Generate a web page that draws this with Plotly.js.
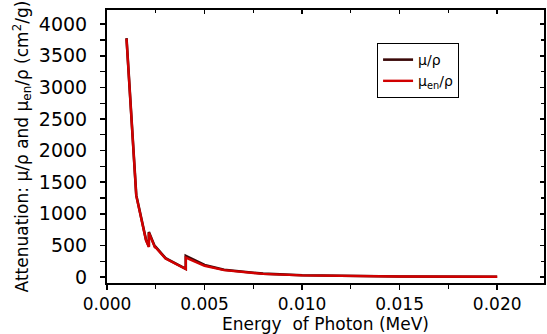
<!DOCTYPE html>
<html>
<head>
<meta charset="utf-8">
<script src="https://cdn.plot.ly/plotly-3.0.1.min.js"></script>
<style>html,body{margin:0;padding:0;background:#fff;}#chart{width:547px;height:334px;}</style>
</head>
<body>
<div id="chart"></div>
<script>
// Photon energy (MeV)
var energy = [0.001, 0.0015, 0.002, 0.0021455, 0.0021455, 0.002472, 0.002472, 0.003, 0.004, 0.0040381, 0.0040381, 0.005, 0.006, 0.008, 0.010, 0.015, 0.020];
// Mass attenuation coefficient mu/rho (cm^2/g)
var muRho = [3781, 1295, 587, 482, 712, 465, 485, 298, 133, 130, 334, 191, 115, 53, 28.5, 9.0, 4.0];
// Mass energy-absorption coefficient mu_en/rho (cm^2/g)
var muEnRho = [3772, 1287, 580, 476, 700, 457, 476, 291, 128, 125, 308, 178, 108, 49, 25.5, 7.5, 3.0];
var xTicks = [0.000, 0.005, 0.010, 0.015, 0.020];
var xTickText = ["0.000", "0.005", "0.010", "0.015", "0.020"];
var yTicks = [0, 500, 1000, 1500, 2000, 2500, 3000, 3500, 4000];

var font = "'DejaVu Sans', sans-serif";
var traces = [
  {x: energy, y: muRho, type: "scatter", mode: "lines", name: "\u03bc/\u03c1",
   line: {color: "#3a0808", width: 2.6}},
  {x: energy, y: muEnRho, type: "scatter", mode: "lines", name: "\u03bc<sub>en</sub>/\u03c1",
   line: {color: "#d10000", width: 2.4}},
  {x: [null], y: [null], xaxis: "x2", yaxis: "y2", showlegend: false, hoverinfo: "skip", mode: "lines"}
];
var xr = [0, 0.0224], yr = [-95, 4225];
var layout = {
  width: 547, height: 334,
  margin: {l: 107, r: 3, t: 10, b: 51},
  paper_bgcolor: "#fff", plot_bgcolor: "#fff",
  font: {family: font, color: "#000"},
  showlegend: true,
  legend: {x: 0.618, y: 0.879, xanchor: "left", yanchor: "top",
    bordercolor: "#000", borderwidth: 1, bgcolor: "#fff",
    font: {size: 14, family: font}, tracegroupgap: 0},
  xaxis: {range: xr, tickvals: xTicks, ticktext: xTickText, showgrid: false, zeroline: false,
    showline: true, linecolor: "#000", linewidth: 2, ticks: "outside", ticklen: 5, tickwidth: 1.5,
    tickcolor: "#000", tickfont: {size: 17, family: font}, ticklabelstandoff: 0,
    minor: {dtick: 0.0025, tick0: 0, ticks: "outside", ticklen: 4, tickwidth: 1.2, tickcolor: "#000", showgrid: false},
    title: {text: "Energy  of Photon (MeV)", font: {size: 17, family: font}, standoff: 5}},
  yaxis: {range: yr, tickvals: yTicks, showgrid: false, zeroline: false,
    showline: true, linecolor: "#000", linewidth: 2, ticks: "outside", ticklen: 5, tickwidth: 1.5,
    tickcolor: "#000", tickfont: {size: 19, family: font}, ticklabelstandoff: 9,
    minor: {dtick: 250, tick0: 0, ticks: "outside", ticklen: 5, tickwidth: 1.2, tickcolor: "#000", showgrid: false},
    title: {text: "Attenuation: \u03bc/\u03c1 and \u03bc<sub>en</sub>/\u03c1 (cm<sup>2</sup>/g)", font: {size: 17, family: font}, standoff: 6}},
  xaxis2: {overlaying: "x", side: "top", range: xr, tickvals: xTicks, showticklabels: false,
    showgrid: false, zeroline: false, showline: true, linecolor: "#000", linewidth: 2,
    ticks: "inside", ticklen: 4, tickwidth: 1.5, tickcolor: "#000",
    minor: {dtick: 0.0025, tick0: 0, ticks: "inside", ticklen: 3, tickwidth: 1.2, tickcolor: "#000", showgrid: false}},
  yaxis2: {overlaying: "y", side: "right", range: yr, tickvals: yTicks, showticklabels: false,
    showgrid: false, zeroline: false, showline: true, linecolor: "#000", linewidth: 2,
    ticks: "inside", ticklen: 4, tickwidth: 1.5, tickcolor: "#000",
    minor: {dtick: 250, tick0: 0, ticks: "inside", ticklen: 3, tickwidth: 1.2, tickcolor: "#000", showgrid: false}}
};
Plotly.newPlot("chart", traces, layout, {displayModeBar: false, staticPlot: true});
</script>
</body>
</html>
